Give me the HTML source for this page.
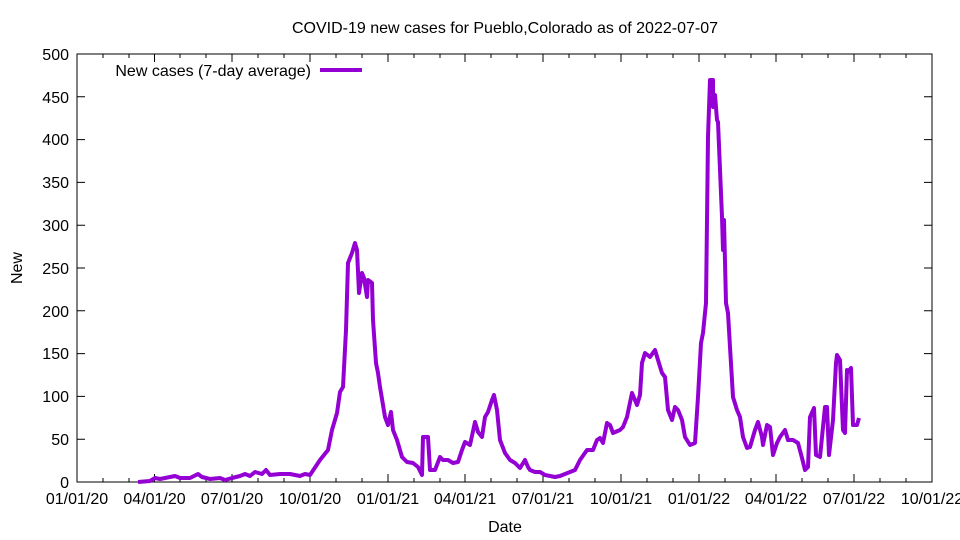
<!DOCTYPE html>
<html><head><meta charset="utf-8"><style>
body{margin:0;background:#fff}
svg{display:block;font-family:"Liberation Sans",Arial,sans-serif}
</style></head><body>
<svg width="960" height="540" xmlns="http://www.w3.org/2000/svg">
<rect width="960" height="540" fill="#fff"/>
<text x="505" y="33" font-size="16" text-anchor="middle">COVID-19 new cases for Pueblo,Colorado as of 2022-07-07</text>
<text x="22" y="268" font-size="16" text-anchor="middle" transform="rotate(-90 22 268)">New</text>
<text x="505" y="532" font-size="16" text-anchor="middle">Date</text>
<g font-size="16" text-anchor="end">
<text x="69" y="488">0</text><text x="69" y="445">50</text><text x="69" y="402">100</text><text x="69" y="359">150</text><text x="69" y="317">200</text><text x="69" y="274">250</text><text x="69" y="231">300</text><text x="69" y="188">350</text><text x="69" y="145">400</text><text x="69" y="103">450</text><text x="69" y="60">500</text>
</g>
<g stroke="#000" stroke-width="1" fill="none">
<path d="M77,439.2h8M77,396.4h8M77,353.6h8M77,310.8h8M77,268h8M77,225.2h8M77,182.4h8M77,139.6h8M77,96.8h8M932,439.2h-8M932,396.4h-8M932,353.6h-8M932,310.8h-8M932,268h-8M932,225.2h-8M932,182.4h-8M932,139.6h-8M932,96.8h-8"/>
<path d="M77,482v-8M154.5,482v-8M232,482v-8M310,482v-8M388,482v-8M465,482v-8M543,482v-8M621,482v-8M699,482v-8M776,482v-8M854,482v-8M932,482v-8M77,54v8M154.5,54v8M232,54v8M310,54v8M388,54v8M465,54v8M543,54v8M621,54v8M699,54v8M776,54v8M854,54v8M932,54v8"/>
<path d="M103,482v-4M129,482v-4M180,482v-4M206,482v-4M258,482v-4M284,482v-4M336,482v-4M362,482v-4M414,482v-4M440,482v-4M491,482v-4M517,482v-4M569,482v-4M595,482v-4M647,482v-4M673,482v-4M725,482v-4M751,482v-4M802,482v-4M828,482v-4M880,482v-4M906,482v-4M103,54v4M129,54v4M180,54v4M206,54v4M258,54v4M284,54v4M336,54v4M362,54v4M414,54v4M440,54v4M491,54v4M517,54v4M569,54v4M595,54v4M647,54v4M673,54v4M725,54v4M751,54v4M802,54v4M828,54v4M880,54v4M906,54v4"/>
<rect x="77" y="54" width="855" height="428"/>
</g>
<g font-size="16" text-anchor="middle">
<text x="77" y="504">01/01/20</text><text x="154.5" y="504">04/01/20</text><text x="232" y="504">07/01/20</text><text x="310" y="504">10/01/20</text><text x="388" y="504">01/01/21</text><text x="465" y="504">04/01/21</text><text x="543" y="504">07/01/21</text><text x="621" y="504">10/01/21</text><text x="699" y="504">01/01/22</text><text x="776" y="504">04/01/22</text><text x="854" y="504">07/01/22</text><text x="932" y="504">10/01/22</text>
</g>
<text x="311" y="76" font-size="16" text-anchor="end">New cases (7-day average)</text>
<line x1="320" y1="70" x2="362" y2="70" stroke="#9400d3" stroke-width="4"/>
<polyline fill="none" stroke="#9400d3" stroke-width="4" stroke-linejoin="round" points="138,482 150,481 155,478 160,479 170,477 175,476 180,478 190,478 198,474 202,477 210,479 220,478 225,480 232,478 240,476 245,474 250,476 255,472 262,474 266,470 270,475 280,474 290,474 300,476 305,474 310,475 320,460 328,450 332,430 337,413 340,392 343,387 346,330 348,263 350,258 352,253 355,243 357,250 359,293 362,273 364,278 367,297 368,280 372,283 373,320 376,363 378,373 380,387 385,417 388,425 391,412 393,430 397,440 402,457 407,462 413,463 418,467 422,475 423,437 428,437 430,470 435,470 440,457 443,460 448,460 453,463 458,462 462,450 465,442 470,445 475,422 478,432 482,437 485,417 488,412 492,400 494,395 497,410 500,440 505,453 510,460 515,463 520,468 525,460 528,467 530,470 535,472 540,472 545,475 555,477 560,476 565,474 570,472 575,470 580,460 587,450 593,450 597,440 600,438 603,443 607,423 610,425 613,433 620,430 623,427 627,417 632,393 637,405 640,395 642,363 645,353 650,357 655,350 658,360 662,373 665,377 668,410 672,420 675,407 678,410 682,420 685,437 690,445 695,443 698,397 701,343 703,333 706,303 708,137 710,80 713,80 713,107 715,95 717,120 718,122 722,217 723,250 724,220 726,303 728,313 730,347 733,397 737,410 740,417 743,437 747,448 750,447 755,430 758,422 762,437 763,445 767,425 770,427 773,455 777,443 780,437 785,430 788,440 793,440 798,443 802,458 805,470 808,467 810,417 814,408 816,455 820,457 825,407 827,407 829,455 833,420 836,363 837,355 840,360 843,430 845,433 847,370 848,372 851,368 853,425 857,425 859,418"/>
</svg>
</body></html>
